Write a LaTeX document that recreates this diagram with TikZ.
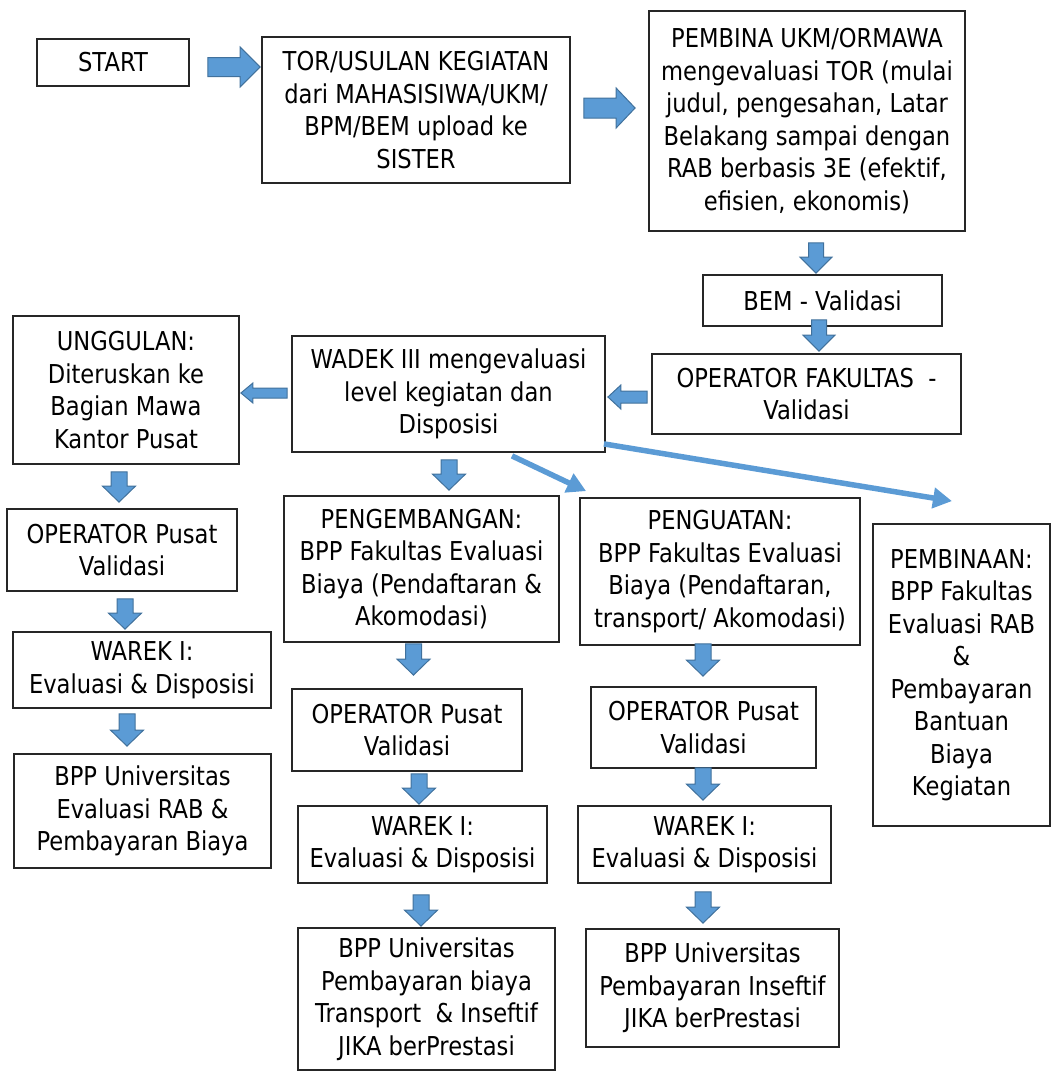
\documentclass[tikz,border=0pt]{standalone}
\usepackage{fontspec}
\setmainfont{DejaVu Sans}[FakeStretch=0.87]
\usepackage{xcolor}
\usepackage{tikz}
\usetikzlibrary{arrows.meta, calc}
\definecolor{flowblue}{HTML}{5B9BD5}
\definecolor{flowedge}{HTML}{41719C}

\begin{document}
\begin{tikzpicture}[x=0.5pt, y=-0.5pt,
  box/.style={rectangle, draw=black!85, line width=0.9pt, inner sep=0pt, align=center, font=\fontsize{13pt}{16.25pt}\selectfont},
  fat/.style n args={3}{fill=flowblue, draw=flowedge, line width=0.5pt, line join=miter,
    to path={($(\tikztotarget)!#3!(\tikztostart)$) coordinate (fathead)
      ($(\tikztostart)!#1!90:(\tikztotarget)$) -- ($(fathead)!#1!90:(\tikztotarget)$)
      -- ($(fathead)!#2!90:(\tikztotarget)$) -- (\tikztotarget)
      -- ($(fathead)!#2!-90:(\tikztotarget)$) -- ($(fathead)!#1!-90:(\tikztotarget)$)
      -- ($(\tikztostart)!#1!-90:(\tikztotarget)$) -- cycle}},
  link/.style={draw=flowblue, line width=2.75pt, -{Triangle[length=9.5pt, width=10pt]}}
]
  \useasboundingbox (0,0) rectangle (1053,1072);

  \node[box, minimum width=76pt, minimum height=23.5pt] (start) at (113,62.5) {START};
  \node[box, minimum width=154pt, minimum height=73pt] (tor) at (416,110) {TOR/USULAN KEGIATAN\\dari MAHASISIWA/UKM/\\BPM/BEM upload ke\\SISTER};
  \node[box, minimum width=158pt, minimum height=110pt] (pembina) at (807,121) {PEMBINA UKM/ORMAWA\\mengevaluasi TOR (mulai\\judul, pengesahan, Latar\\Belakang sampai dengan\\RAB berbasis 3E (efektif,\\efisien, ekonomis)};
  \node[box, minimum width=119.5pt, minimum height=25.5pt] (bem) at (822.5,300.5) {BEM - Validasi};
  \node[box, minimum width=154.5pt, minimum height=40pt] (opfak) at (806.5,394) {OPERATOR FAKULTAS\ \ -\\Validasi};
  \node[box, minimum width=156.5pt, minimum height=58pt] (wadek) at (448.5,394) {WADEK III mengevaluasi\\level kegiatan dan\\Disposisi};
  \node[box, minimum width=113pt, minimum height=74pt] (unggulan) at (126,390) {UNGGULAN:\\Diteruskan ke\\Bagian Mawa\\Kantor Pusat};

  \node[box, minimum width=115pt, minimum height=41pt] (oppusatA) at (122,550) {OPERATOR Pusat\\Validasi};
  \node[box, minimum width=129pt, minimum height=38pt] (warekA) at (142,670) {WAREK I:\\Evaluasi \& Disposisi};
  \node[box, minimum width=128.5pt, minimum height=57pt] (bppA) at (142.5,811) {BPP Universitas\\Evaluasi RAB \&\\Pembayaran Biaya};

  \node[box, minimum width=137.5pt, minimum height=73pt] (pengembangan) at (421.5,569) {PENGEMBANGAN:\\BPP Fakultas Evaluasi\\Biaya (Pendaftaran \&\\Akomodasi)};
  \node[box, minimum width=115pt, minimum height=41pt] (oppusatB) at (407,730) {OPERATOR Pusat\\Validasi};
  \node[box, minimum width=124.5pt, minimum height=38.5pt] (warekB) at (422.5,844.5) {WAREK I:\\Evaluasi \& Disposisi};
  \node[box, minimum width=128.5pt, minimum height=71pt] (bppB) at (426.5,999) {BPP Universitas\\Pembayaran biaya\\Transport\ \ \& Inseftif\\JIKA berPrestasi};

  \node[box, minimum width=140pt, minimum height=73.5pt] (penguatan) at (720,571.5) {PENGUATAN:\\BPP Fakultas Evaluasi\\Biaya (Pendaftaran,\\transport/ Akomodasi)};
  \node[box, minimum width=112.5pt, minimum height=40.5pt] (oppusatC) at (703.5,727.5) {OPERATOR Pusat\\Validasi};
  \node[box, minimum width=126.5pt, minimum height=38.5pt] (warekC) at (704.5,844.5) {WAREK I:\\Evaluasi \& Disposisi};
  \node[box, minimum width=126.5pt, minimum height=59pt] (bppC) at (712.5,988) {BPP Universitas\\Pembayaran Inseftif\\JIKA berPrestasi};

  \node[box, minimum width=88.5pt, minimum height=151pt] (pembinaan) at (961.5,675) {PEMBINAAN:\\BPP Fakultas\\Evaluasi RAB\\\&\\Pembayaran\\Bantuan\\Biaya\\Kegiatan};

  \draw[fat={4.75pt}{10pt}{10pt}] ([xshift=9pt,yshift=-2.25pt]start.east) to ([xshift=-0.5pt,yshift=21.5pt]tor.west);
  \draw[fat={5pt}{10pt}{9.5pt}] ([xshift=6.5pt,yshift=1pt]tor.east) to ([xshift=-6.5pt,yshift=6.5pt]pembina.west);
  \draw[fat={3.75pt}{8pt}{8pt}] ([xshift=4.5pt,yshift=-5.5pt]pembina.south) to ([xshift=-3.25pt,yshift=0.5pt]bem.north);
  \draw[fat={3.75pt}{8pt}{8pt}] ([xshift=-1.75pt,yshift=3.5pt]bem.south) to ([xshift=6.25pt,yshift=1pt]opfak.north);
  \draw[fat={3pt}{6pt}{6.5pt}] ([xshift=-2pt,yshift=-1.5pt]opfak.west) to ([xshift=1pt,yshift=-1.5pt]wadek.east);
  \draw[fat={2.5pt}{5pt}{6pt}] ([xshift=-2pt,yshift=0.5pt]wadek.west) to ([xshift=0.5pt,yshift=-1.5pt]unggulan.east);

  \draw[fat={4pt}{8.25pt}{8pt}] ([xshift=-3.5pt,yshift=-3.5pt]unggulan.south) to ([xshift=-1.5pt,yshift=3pt]oppusatA.north);
  \draw[fat={4pt}{8.25pt}{8pt}] ([xshift=1.5pt,yshift=-3.5pt]oppusatA.south) to ([xshift=-8.5pt,yshift=1pt]warekA.north);
  \draw[fat={4pt}{8.25pt}{8pt}] ([xshift=-7.5pt,yshift=-2.5pt]warekA.south) to ([xshift=-7.75pt,yshift=3.5pt]bppA.north);

  \draw[fat={4pt}{8.25pt}{8pt}] ([xshift=0.25pt,yshift=-3.5pt]wadek.south) to ([xshift=13.75pt,yshift=2.5pt]pengembangan.north);
  \draw[fat={4pt}{8.25pt}{8pt}] ([xshift=-4pt,yshift=-0.5pt]pengembangan.south) to ([xshift=3.25pt,yshift=6.5pt]oppusatB.north);
  \draw[fat={4pt}{8.25pt}{8pt}] ([xshift=6pt,yshift=-1pt]oppusatB.south) to ([xshift=-1.75pt,yshift=0.5pt]warekB.north);
  \draw[fat={4pt}{8.25pt}{8pt}] ([xshift=-0.75pt,yshift=-5.5pt]warekB.south) to ([xshift=-2.75pt,yshift=0.5pt]bppB.north);

  \draw[fat={4pt}{8.25pt}{8pt}] ([xshift=-8.5pt,yshift=1pt]penguatan.south) to ([xshift=-0.25pt,yshift=5pt]oppusatC.north);
  \draw[fat={4pt}{8.25pt}{8pt}] ([xshift=-0.25pt,yshift=0.5pt]oppusatC.south) to ([xshift=-0.75pt,yshift=2.5pt]warekC.north);
  \draw[fat={4pt}{8.25pt}{8pt}] ([xshift=-0.75pt,yshift=-4pt]warekC.south) to ([xshift=-4.75pt,yshift=2.5pt]bppC.north);

  \draw[link] ([xshift=31.75pt,yshift=-1.5pt]wadek.south) -- ([xshift=3.5pt,yshift=3pt]penguatan.north west);
  \draw[link] ([xshift=-1pt,yshift=4.5pt]wadek.south east) -- ([xshift=-4.75pt,yshift=11pt]pembinaan.north);
\end{tikzpicture}
\end{document}
